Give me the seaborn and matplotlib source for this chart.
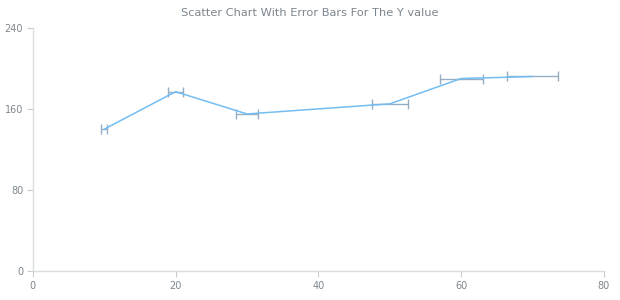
import matplotlib
matplotlib.use("Agg")
import matplotlib.pyplot as plt
import seaborn as sns
import pandas as pd

x_values = [10, 20, 30, 50, 60, 70]
y_values = [140, 177, 155, 165, 190, 192]
x_errors = [0.4, 1.0, 1.5, 2.5, 3.0, 3.6]

title = "Scatter Chart With Error Bars For The Y value"
x_ticks = [0, 20, 40, 60, 80]
y_ticks = [0, 80, 160, 240]

df = pd.DataFrame({"x": x_values, "y": y_values, "xerr": x_errors})

sns.set_theme(style="white")
plt.rcParams["font.family"] = ["DejaVu Sans"]

fig = plt.figure(figsize=(6.2, 3.0), dpi=100)
ax = fig.add_axes([0.053, 0.097, 0.921, 0.81])

sns.lineplot(data=df, x="x", y="y", sort=False, ax=ax, color="#73bdf2",
             linewidth=1.1, zorder=3)
ax.errorbar(df["x"], df["y"], xerr=df["xerr"], fmt="none", ecolor="#8aa5bd",
            elinewidth=1.0, capsize=3.5, capthick=1.0, zorder=2, alpha=0.9)

ax.set_xlim(0, 80)
ax.set_ylim(0, 240)
ax.set_xticks(x_ticks)
ax.set_yticks(y_ticks)
ax.set_xlabel("")
ax.set_ylabel("")

for side in ["top", "right"]:
    ax.spines[side].set_visible(False)
for side in ["left", "bottom"]:
    ax.spines[side].set_color("#d9dde0")
    ax.spines[side].set_linewidth(1.0)

ax.tick_params(axis="both", which="both", direction="out", length=4, width=0.8,
               color="#c8ccd0", labelsize=7, labelcolor="#7c868e",
               bottom=True, left=True, pad=3)

fig.text(0.5, 0.955, title, ha="center", va="center", fontsize=8.2,
         color="#7c868e")

fig.savefig("out.png", dpi=100)
